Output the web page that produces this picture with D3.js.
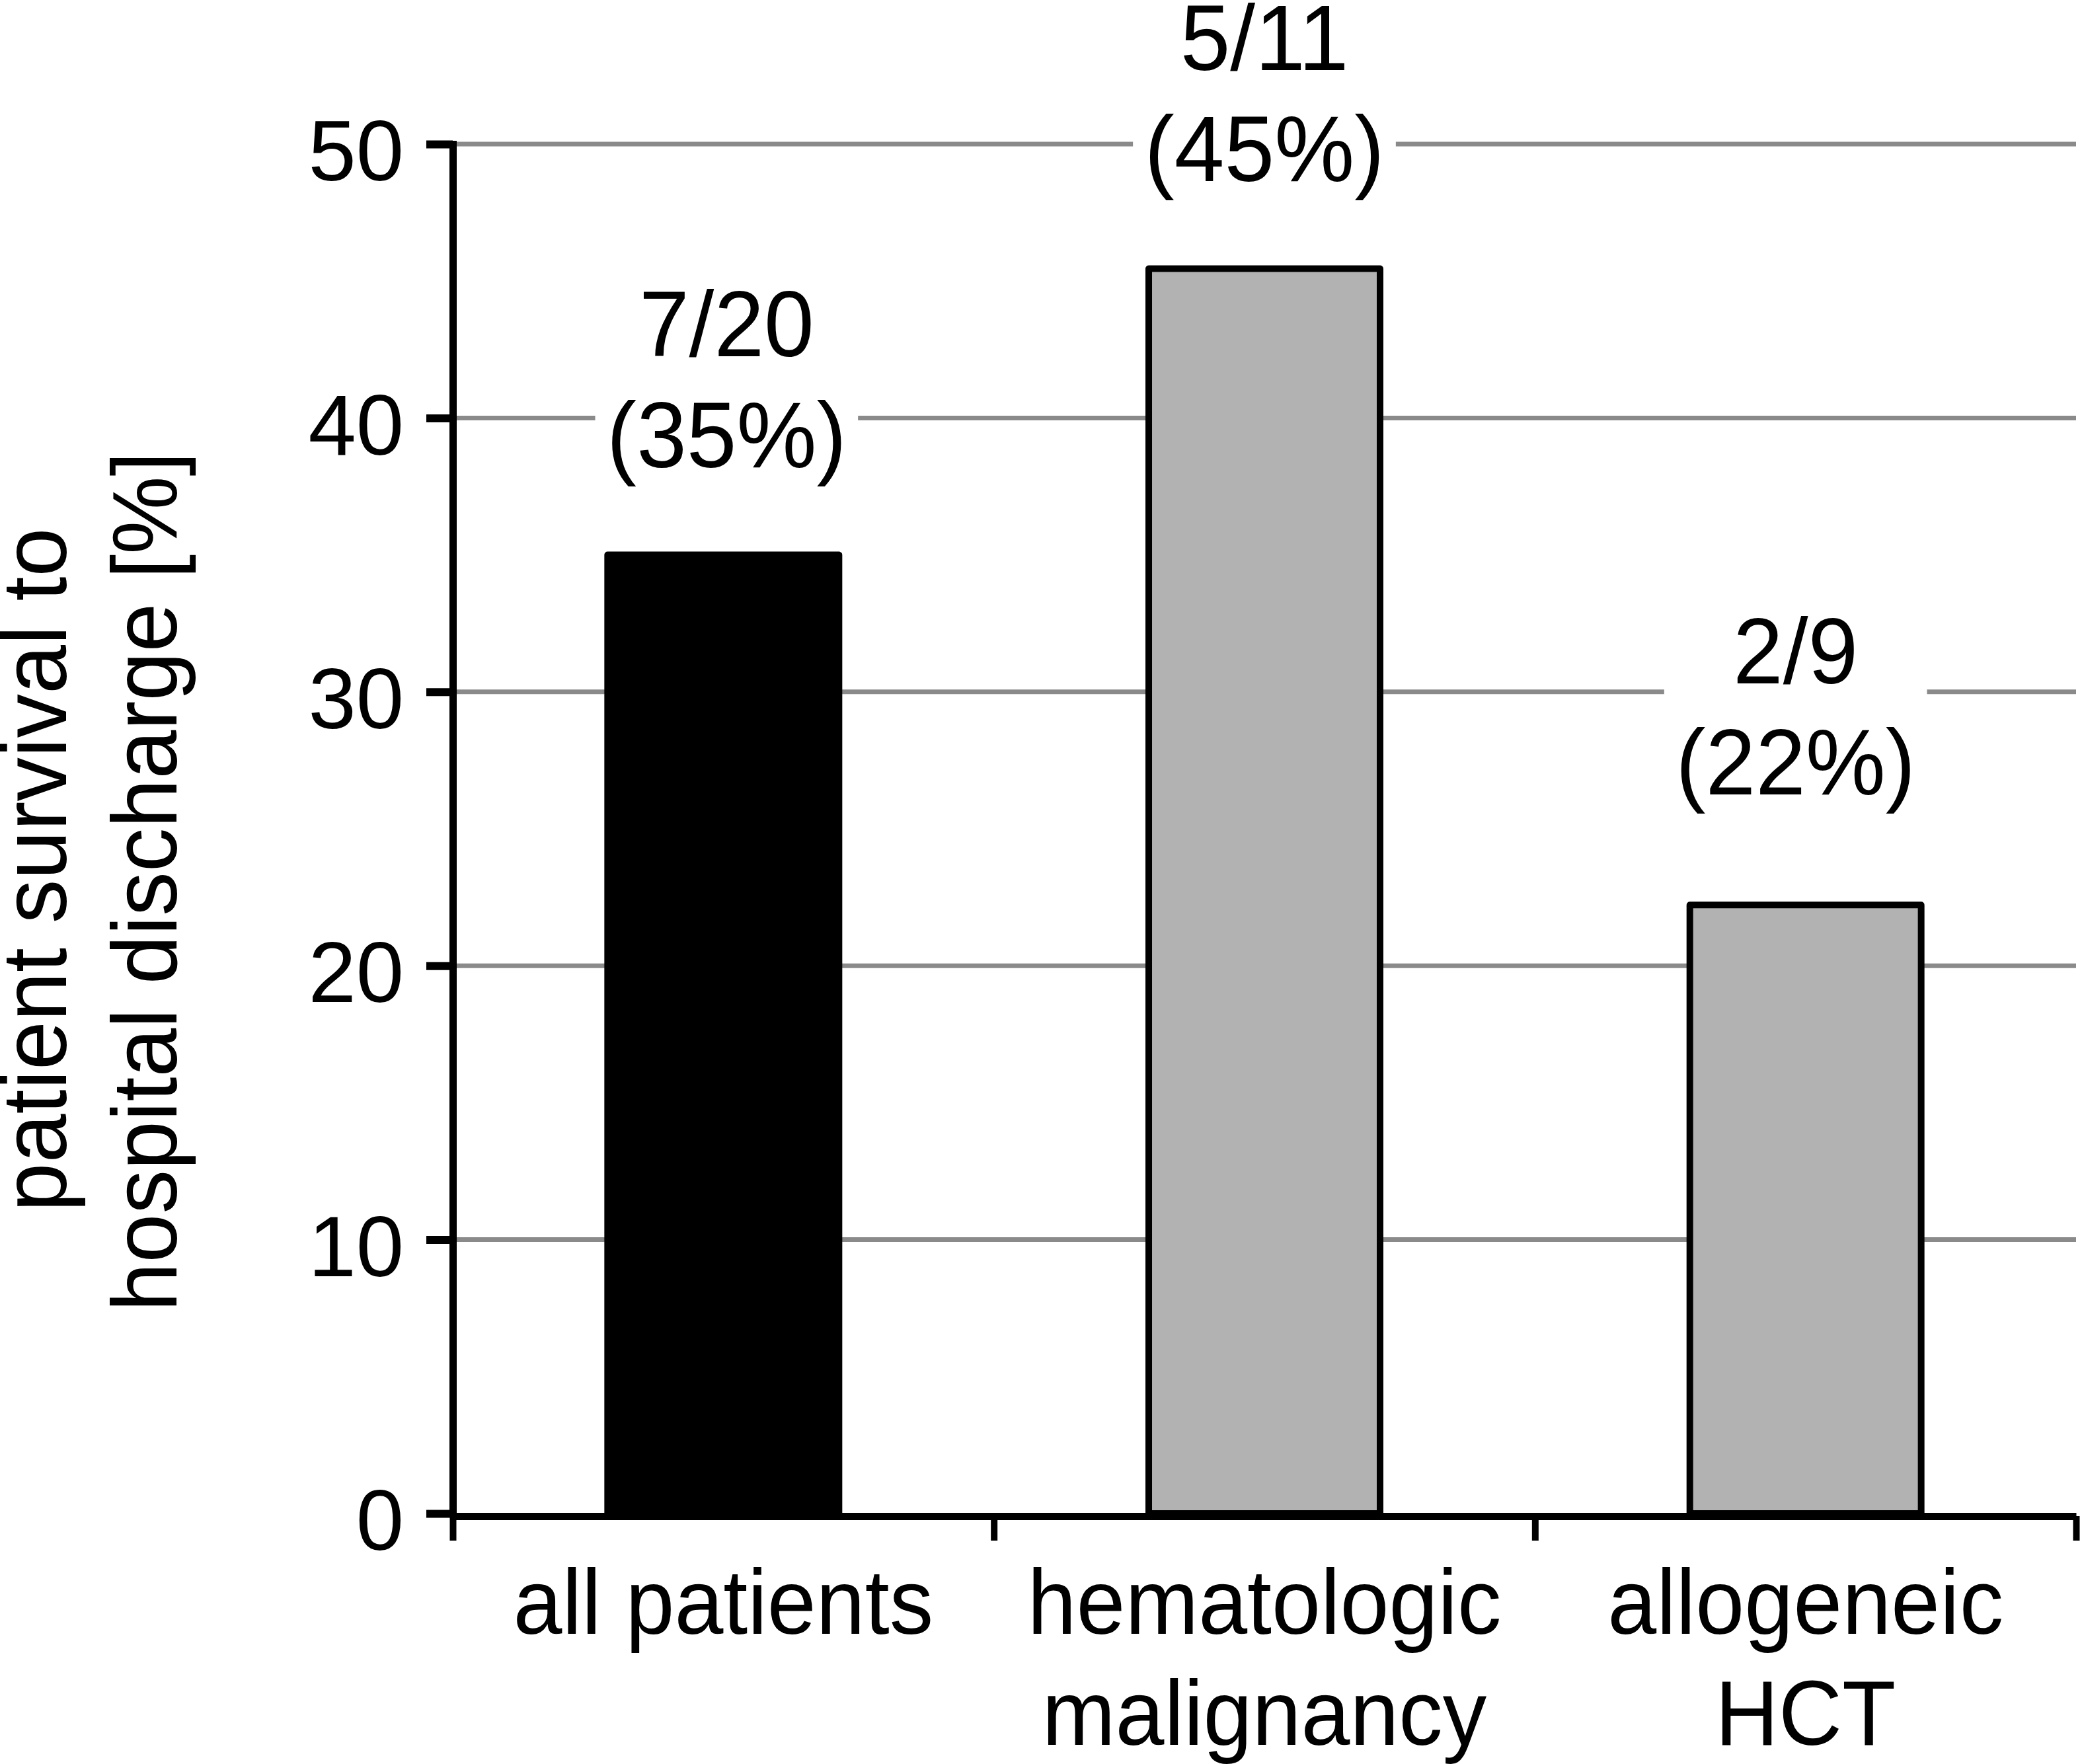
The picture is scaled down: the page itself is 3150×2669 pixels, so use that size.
<!DOCTYPE html>
<html>
<head>
<meta charset="utf-8">
<script src="https://cdn.jsdelivr.net/npm/d3@7"></script>
<style>
body { margin: 0; background: #fff; }
svg { display: block; }
text { font-family: "Liberation Sans", Arial, sans-serif; fill: #000; }
</style>
</head>
<body>
<div id="chart"></div>
<script>
// data
const categories = ["all patients", "hematologic malignancy", "allogeneic HCT"];
const categoryLines = [["all patients"], ["hematologic", "malignancy"], ["allogeneic", "HCT"]];
const survival = [35, 45.45, 22.22];
const counts = ["7/20", "5/11", "2/9"];
const pctLabels = ["(35%)", "(45%)", "(22%)"];
const barFills = ["#000000", "#b2b2b2", "#b2b2b2"];
const yTicks = [0, 10, 20, 30, 40, 50];
const yTitle = ["patient survival to", "hospital discharge [%]"];

// label placement tweaks (labels were nudged by hand in the original)
const labelNudgeX = [5, 0, -15];
const labelNudgeY = [0, 0, -34];

width = 3150;
height = 2669;
plot = ({left: 685, right: 3141, top: 218, zero: 2290});
narrow = 0.95; // original font is a touch narrower than Liberation Sans

const svg = d3.select("#chart")
    .append("svg")
    .attr("width", width)
    .attr("height", height);

svg.append("rect")
    .attr("width", width)
    .attr("height", height)
    .attr("fill", "#fff");

var y = d3.scaleLinear()
    .domain([0, 50])
    .range([plot.zero, plot.top]);

var x = d3.scaleBand()
    .domain(categories)
    .range([plot.left, plot.right])
    .paddingInner(0.5725)
    .paddingOuter(0.5725 / 2);

var xEdge = d3.scaleLinear()
    .domain([0, categories.length])
    .range([plot.left, plot.right]);

// gridlines
svg.append("g")
    .selectAll("line")
    .data(yTicks.filter(d => d > 0))
    .join("line")
    .attr("x1", plot.left + 5)
    .attr("x2", plot.right)
    .attr("y1", d => y(d))
    .attr("y2", d => y(d))
    .attr("stroke", "#8a8a8a")
    .attr("stroke-width", 7);

// bars
svg.append("g")
    .selectAll("rect")
    .data(survival)
    .join("rect")
    .attr("x", (d, i) => x(categories[i]))
    .attr("y", d => y(d))
    .attr("width", x.bandwidth())
    .attr("height", d => y(0) - y(d))
    .attr("fill", (d, i) => barFills[i])
    .attr("stroke", "#000")
    .attr("stroke-width", 10)
    .attr("stroke-linejoin", "round");

// value labels with white box that cuts the gridlines
const labels = svg.append("g")
    .selectAll("g")
    .data(survival)
    .join("g")
    .attr("transform", (d, i) =>
        `translate(${x(categories[i]) + x.bandwidth() / 2 + labelNudgeX[i]}, ${y(d) - 133 + labelNudgeY[i]}) scale(0.965, 1)`);

labels.append("rect").attr("class", "bg").attr("fill", "#fff");

labels.append("text")
    .attr("text-anchor", "middle")
    .attr("font-size", 141)
    .selectAll("tspan")
    .data((d, i) => [counts[i], pctLabels[i]])
    .join("tspan")
    .attr("x", 0)
    .attr("y", (d, j) => j === 0 ? -168 : 0)
    .text(d => d);

labels.each(function() {
    const g = d3.select(this);
    const b = g.select("text").node().getBBox();
    g.select("rect.bg")
        .attr("x", b.x - 18)
        .attr("y", b.y - 10)
        .attr("width", b.width + 36)
        .attr("height", b.height + 20);
});

// y axis
const yAxis = svg.append("g")
    .attr("transform", `translate(${plot.left}, 0)`)
    .call(d3.axisLeft(y)
        .tickValues(yTicks)
        .tickSize(40)
        .tickSizeOuter(0)
        .tickPadding(34));

yAxis.select(".domain")
    .attr("stroke", "#000")
    .attr("stroke-width", 11)
    .attr("stroke-linecap", "square");
yAxis.selectAll(".tick line")
    .attr("stroke", "#000")
    .attr("stroke-width", 12);
yAxis.selectAll(".tick text")
    .attr("font-size", 130)
    .attr("font-family", '"Liberation Sans", Arial, sans-serif')
    .attr("fill", "#000")
    .attr("dy", "0.42em");

// x axis with ticks between the categories
const xAxis = svg.append("g")
    .attr("transform", `translate(0, ${plot.zero + 4})`)
    .call(d3.axisBottom(xEdge)
        .tickValues(d3.range(categories.length + 1))
        .tickFormat("")
        .tickSize(37)
        .tickSizeOuter(0));

xAxis.select(".domain")
    .attr("stroke", "#000")
    .attr("stroke-width", 11);
xAxis.selectAll(".tick line")
    .attr("stroke", "#000")
    .attr("stroke-width", 10);

// category labels
svg.append("g")
    .selectAll("text")
    .data(categoryLines)
    .join("text")
    .attr("text-anchor", "middle")
    .attr("font-size", 140)
    .attr("transform", (d, i) =>
        `translate(${x(categories[i]) + x.bandwidth() / 2}, 2472) scale(${narrow}, 1)`)
    .selectAll("tspan")
    .data(d => d)
    .join("tspan")
    .attr("x", 0)
    .attr("y", (d, j) => j * 168)
    .text(d => d);

// y axis title
const titlePos = [[100, 1316], [267, 1334]];
svg.append("g")
    .selectAll("text")
    .data(yTitle)
    .join("text")
    .attr("text-anchor", "middle")
    .attr("font-size", 140)
    .attr("transform", (d, i) =>
        `translate(${titlePos[i][0]}, ${titlePos[i][1]}) rotate(-90) scale(${narrow}, 1)`)
    .text(d => d);
</script>
</body>
</html>
